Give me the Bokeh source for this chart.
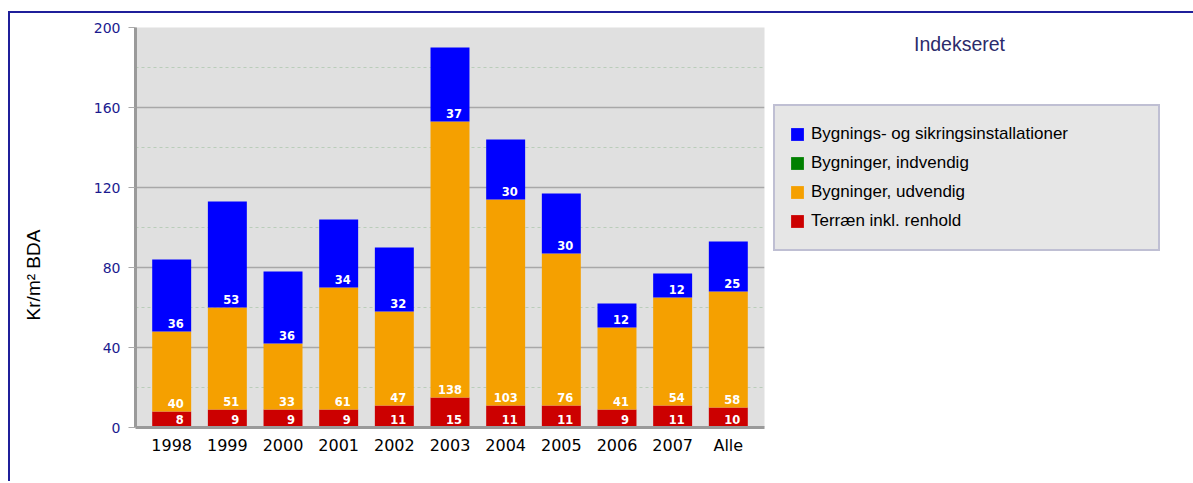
from bokeh.plotting import figure
from bokeh.layouts import row
from bokeh.models import (FactorRange, Range1d, SingleIntervalTicker, Legend, LegendItem,
                          ColumnDataSource, Label)
from bokeh.core.properties import value
from bokeh.embed import file_html
from bokeh.resources import INLINE

years = ["1998", "1999", "2000", "2001", "2002", "2003", "2004", "2005", "2006", "2007", "Alle"]
terraen = [8, 9, 9, 9, 11, 15, 11, 11, 9, 11, 10]
udvendig = [40, 51, 33, 61, 47, 138, 103, 76, 41, 54, 58]
indvendig = [0, 0, 0, 0, 0, 0, 0, 0, 0, 0, 0]
installationer = [36, 53, 36, 34, 32, 37, 30, 30, 12, 12, 25]

series = [
    ("terraen", "Terræn inkl. renhold", "#cc0000", terraen),
    ("udvendig", "Bygninger, udvendig", "#f5a000", udvendig),
    ("indvendig", "Bygninger, indvendig", "#008000", indvendig),
    ("installationer", "Bygnings- og sikringsinstallationer", "#0000ff", installationer),
]

data = {"years": years}
for key, _, _, vals in series:
    data[key] = vals
source = ColumnDataSource(data)
stackers = [s[0] for s in series]
colors = [s[2] for s in series]

p = figure(x_range=FactorRange(*years, range_padding=0.0273), y_range=Range1d(0, 200),
           width=755, height=468, output_backend="svg", toolbar_location=None,
           min_border_left=125, min_border_right=1, min_border_top=14, min_border_bottom=54)
p.background_fill_color = "#e0e0e0"
p.border_fill_color = "white"
p.outline_line_color = None

p.vbar_stack(stackers, x="years", width=0.7, source=source, color=colors, line_color=None)

# value labels, placed at the base of each segment
bottom = [0] * len(years)
lx, ly, lt = [], [], []
for key, _, _, vals in series:
    for i, v in enumerate(vals):
        if v > 0:
            lx.append(years[i])
            ly.append(bottom[i])
            lt.append(str(v))
        bottom[i] += v
lsrc = ColumnDataSource(dict(x=lx, y=ly, t=lt))
p.text(x="x", y="y", text="t", source=lsrc, text_align="right", text_baseline="alphabetic",
       x_offset=12, y_offset=-8, text_color="white", text_font=value("DejaVu Sans"),
       text_font_style="bold", text_font_size="11.5px")

# axes
p.yaxis.ticker = SingleIntervalTicker(interval=40, num_minor_ticks=2)
p.yaxis.axis_line_color = "#9a9a9a"
p.yaxis.axis_line_width = 3
p.yaxis.major_tick_line_color = "#aaaaaa"
p.yaxis.major_tick_out = 7
p.yaxis.major_tick_in = 0
p.yaxis.minor_tick_line_color = None
p.yaxis.major_label_text_color = "#1a1a8f"
p.yaxis.major_label_text_font = "DejaVu Sans"
p.yaxis.major_label_text_font_size = "14px"
p.yaxis.major_label_standoff = 8
# trailing no-break spaces push the visible label lower along the axis, as in the original
p.yaxis.axis_label = "Kr/m² BDA" + "\u00a0" * 18
p.yaxis.axis_label_text_font = "Liberation Sans"
p.yaxis.axis_label_text_font_style = "normal"
p.yaxis.axis_label_text_font_size = "19px"
p.yaxis.axis_label_text_color = "black"
p.yaxis.axis_label_standoff = 47

p.xaxis.axis_line_color = "#9a9a9a"
p.xaxis.axis_line_width = 3
p.xaxis.major_tick_line_color = None
p.xaxis.minor_tick_line_color = None
p.xaxis.major_label_text_font = "DejaVu Sans"
p.xaxis.major_label_text_font_size = "16px"
p.xaxis.major_label_text_color = "black"
p.xaxis.major_label_standoff = 2

p.xgrid.grid_line_color = None
p.ygrid.grid_line_color = "#a8a8a8"
p.ygrid.grid_line_width = 1.5
p.ygrid.minor_grid_line_color = "#b9cdb9"
p.ygrid.minor_grid_line_dash = "3 3"
p.ygrid.minor_grid_line_width = 1

# side panel with title and legend (zero-width copies of the stacks, out of view, feed the legend)
q = figure(width=428, height=468, output_backend="svg", toolbar_location=None,
           x_axis_location=None, y_axis_location=None,
           x_range=FactorRange(*years), y_range=Range1d(400, 600),
           min_border_left=0, min_border_right=0, min_border_top=14, min_border_bottom=54)
q.outline_line_color = None
q.grid.grid_line_color = None
q.background_fill_color = "white"
q.border_fill_color = "white"

rs = q.vbar_stack(stackers, x="years", width=0, source=source, color=colors, line_color=None)
items = [LegendItem(label=s[1], renderers=[r]) for s, r in zip(series, rs)][::-1]
legend = Legend(items=items, location=(8, 176), orientation="vertical",
                background_fill_color="#e6e6e6", background_fill_alpha=1,
                border_line_color="#9898c0", border_line_width=2,
                label_text_font="Liberation Sans", label_text_font_size="17px",
                label_text_color="black", glyph_width=16, glyph_height=16,
                label_height=28, label_standoff=6, label_width=333,
                spacing=1, padding=14, margin=0)
q.add_layout(legend)

title = Label(x=194, y=384, x_units="screen", y_units="screen", text="Indekseret",
              text_align="center", text_baseline="middle", text_font="Liberation Sans",
              text_font_size="19.5px", text_color="#2b2b6b")
q.add_layout(title)

layout = row(p, q)
layout.styles = {"border-top": "2px solid #1f1f9a", "border-left": "2px solid #1f1f9a",
                 "margin-top": "11px", "margin-left": "8px"}

open("out.html", "w").write(file_html(layout, INLINE))
